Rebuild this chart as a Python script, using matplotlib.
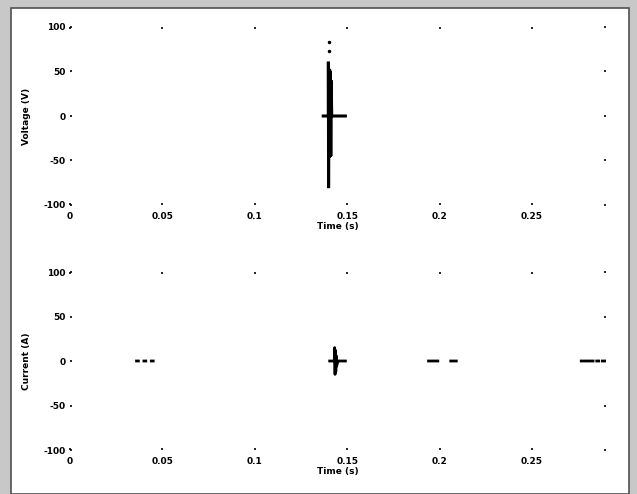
import matplotlib as mpl
mpl.use('Agg')
import matplotlib.pyplot as plt
import numpy as np
from matplotlib.patches import Rectangle

nan = np.nan

# axis ticks and labels
x_ticks = [0, 0.05, 0.1, 0.15, 0.2, 0.25]
x_labels = ['0', '0.05', '0.1', '0.15', '0.2', '0.25']
y_ticks = [-100, -50, 0, 50, 100]
y_labels = ['-100', '-50', '0', '50', '100']

# voltage trace (spike near t = 0.14 s)
t_volt = [0.137, 0.1398, 0.1398, 0.1399, 0.1401, 0.1403, 0.1405, 0.1407, 0.1409, 0.1411, 0.1413, 0.1416, 0.149]
volt = [0, 0, 61, -81, 53, -47, 52, -46, 50, -45, 40, 0, 0]
t_volt_pts = [0.1403, 0.1403]
volt_pts = [73, 83]

# current trace (mostly zero, small burst at t = 0.143 s)
t_curr = [0.036, 0.037, nan, 0.040, 0.041, nan, 0.044, 0.045, nan,
          0.1405, 0.1430, 0.1432, 0.1434, 0.1436, 0.1438, 0.1440, 0.1442, 0.1450, 0.149, nan,
          0.194, 0.199, nan, 0.206, 0.209, nan, 0.2766, 0.283, nan,
          0.285, 0.286, nan, 0.288, 0.291]
curr = [0, 0, nan, 0, 0, nan, 0, 0, nan,
        0, 0, 15, -15, 12, -12, 6, -6, 0, 0, nan,
        0, 0, nan, 0, 0, nan, 0, 0, nan,
        0, 0, nan, 0, 0]

fig = plt.figure(figsize=(6.37, 4.94), dpi=100)
fig.patch.set_facecolor('#c8c8c8')
fig.patches.append(Rectangle((11/637, 0), 618/637, 486/494, transform=fig.transFigure,
                             facecolor='white', edgecolor='#505050', linewidth=1.2, zorder=-1))

ax1 = fig.add_axes([70/637, 1-205/494, 536/637, 178/494])
ax2 = fig.add_axes([70/637, 1-450/494, 536/637, 178/494])

ax1.plot(t_volt, volt, color='black', linewidth=2.2, solid_joinstyle='miter')
ax1.plot(t_volt_pts, volt_pts, linestyle='none', marker='o', markersize=1.5, color='black')
ax2.plot(t_curr, curr, color='black', linewidth=2.0)

for ax, ylab in [(ax1, 'Voltage (V)'), (ax2, 'Current (A)')]:
    ax.set_xlim(0, 0.29)
    ax.set_ylim(-100, 100)
    ax.set_xticks(x_ticks)
    ax.set_xticklabels(x_labels, fontweight='bold')
    ax.set_yticks(y_ticks)
    ax.set_yticklabels(y_labels, fontweight='bold')
    for s in ax.spines.values():
        s.set_visible(False)
    ax.tick_params(direction='in', length=1.5, width=1.2, labelsize=6.5,
                   top=True, right=True, pad=3)
    ax.tick_params(axis='x', pad=5)
    ax.set_xlabel('Time (s)', fontsize=6.5, fontweight='bold', labelpad=1)
    ax.set_ylabel(ylab, fontsize=6.5, fontweight='bold', labelpad=9)
    ax.set_facecolor('white')

fig.savefig('out.png', dpi=100, facecolor=fig.get_facecolor())
